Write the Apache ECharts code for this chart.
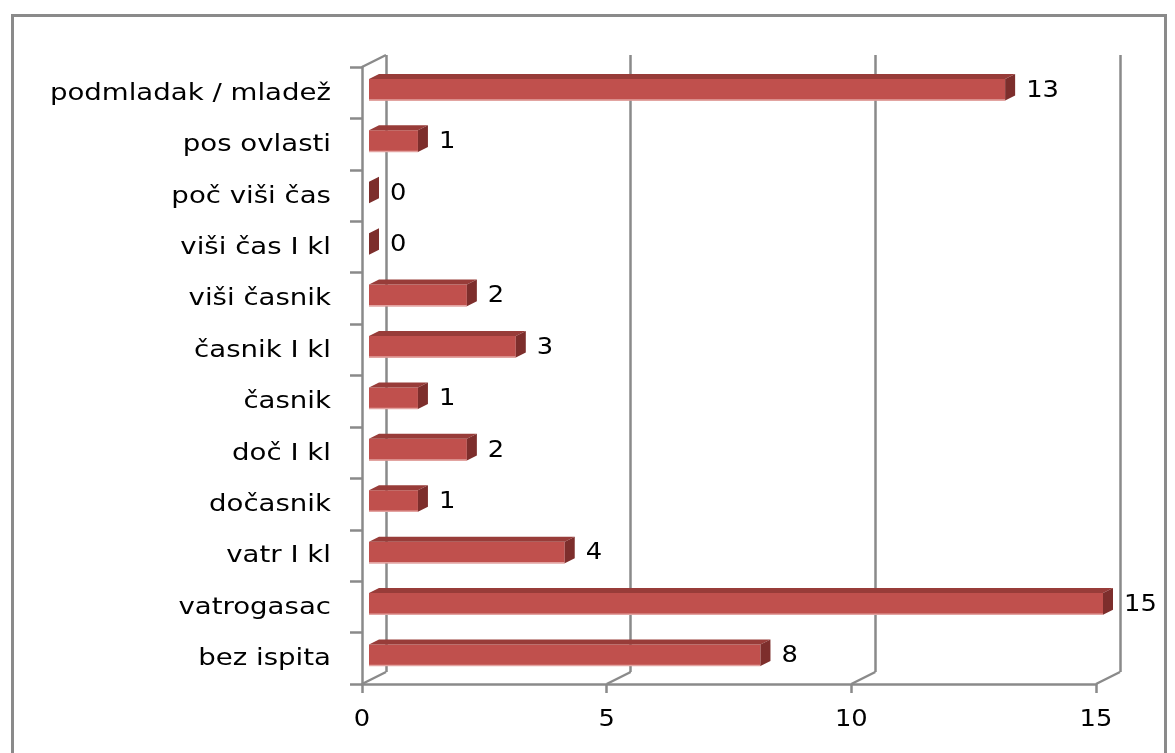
<!DOCTYPE html>
<html>
<head>
<meta charset="utf-8">
<script src="https://cdn.jsdelivr.net/npm/echarts@6/dist/echarts.min.js"></script>
<style>
  html, body { margin: 0; padding: 0; background: #ffffff; }
  #chart { width: 1175px; height: 753px; }
</style>
</head>
<body>
<div id="chart"></div>
<script>
// ---- data ----
const categories = [
  'bez ispita', 'vatrogasac', 'vatr I kl', 'dočasnik', 'doč I kl', 'časnik',
  'časnik I kl', 'viši časnik', 'viši čas I kl', 'poč viši čas', 'pos ovlasti',
  'podmladak / mladež'
];
const values = [8, 15, 4, 1, 2, 1, 3, 2, 0, 0, 1, 13];
const axisTicks = [0, 5, 10, 15];

// ---- style / layout constants ----
const FONT = 'DejaVu Sans';
const GRAY = '#8a8a8a';
const DEPTH_X = 24, DEPTH_Y = -12;       // back wall offset
const BAR_DX = 7, BAR_DY = -3;           // bar front face offset
const BAR_DEPTH_X = 10, BAR_DEPTH_Y = -5;
const G = { left: 362, right: 79, top: 67, bottom: 69 };

const chart = echarts.init(document.getElementById('chart'), null, { renderer: 'canvas' });

const barData = values.map((v, i) => [v, i]);
const catData = categories.map((c, i) => [0, i]);

function renderBar(params, api) {
  const v = api.value(0), i = api.value(1);
  const p0 = api.coord([0, i]);
  const p1 = api.coord([v, i]);
  const band = api.size([0, 1])[1];
  const h = band * 0.42;
  const x0 = p0[0] + BAR_DX, x1 = p1[0] + BAR_DX;
  const cy = p0[1] + BAR_DY;
  const yt = cy - h / 2, yb = cy + h / 2;
  const dx = BAR_DEPTH_X, dy = BAR_DEPTH_Y;
  const children = [];
  if (x1 > x0) {
    children.push({ type: 'rect', shape: { x: x0, y: yt, width: x1 - x0, height: h },
      style: { fill: '#c0504d' } });
    children.push({ type: 'line', shape: { x1: x0, y1: yb - 0.5, x2: x1, y2: yb - 0.5 },
      style: { stroke: '#e3a3a1', lineWidth: 1.5 } });
    children.push({ type: 'polygon', shape: { points: [[x0, yt], [x1, yt], [x1 + dx, yt + dy], [x0 + dx, yt + dy]] },
      style: { fill: '#983c39' } });
  }
  children.push({ type: 'polygon', shape: { points: [[x1, yt], [x1 + dx, yt + dy], [x1 + dx, yb + dy], [x1, yb]] },
    style: { fill: '#7d2e2c' } });
  children.push({ type: 'text', x: x1 + dx + 11, y: cy + 1, scaleX: 1.12,
    style: { text: String(v), x: 0, y: 0,
    fill: '#000', font: '23px "' + FONT + '"', textAlign: 'left', textVerticalAlign: 'middle' } });
  return { type: 'group', children: children };
}

function renderCatLabel(params, api) {
  const i = api.value(1);
  const p = api.coord([0, i]);
  return { type: 'text', x: p[0] - 31, y: p[1] + 1, scaleX: 1.2,
    style: { text: categories[i], x: 0, y: 0, fill: '#000', font: '23px "' + FONT + '"',
      textAlign: 'right', textVerticalAlign: 'middle' } };
}

function renderDiag(params, api) {
  const v = api.value(0);
  const band = api.size([0, 1])[1];
  const pb = api.coord([v, 0]);
  const yBottom = pb[1] + band / 2;
  const children = [{ type: 'line', shape: { x1: pb[0], y1: yBottom, x2: pb[0] + DEPTH_X, y2: yBottom + DEPTH_Y },
    style: { stroke: GRAY, lineWidth: 2.5 } }];
  children.push({ type: 'text', x: pb[0], y: yBottom + 36, scaleX: 1.12,
    style: { text: String(v), x: 0, y: 0, fill: '#000', font: '23px "' + FONT + '"',
      textAlign: 'center', textVerticalAlign: 'middle' } });
  if (v === 0) {
    const pt = api.coord([0, categories.length - 1]);
    const yTop = pt[1] - band / 2;
    children.push({ type: 'line', shape: { x1: pt[0], y1: yTop, x2: pt[0] + DEPTH_X, y2: yTop + DEPTH_Y },
      style: { stroke: GRAY, lineWidth: 2.5 } });
  }
  return { type: 'group', children: children };
}

chart.setOption({
  animation: false,
  backgroundColor: '#ffffff',
  graphic: [{
    type: 'rect', left: 10, top: 13, z: -10,
    shape: { width: 1153, height: 780 },
    style: { fill: 'none', stroke: GRAY, lineWidth: 3 }
  }],
  grid: [
    { left: G.left, right: G.right, top: G.top, bottom: G.bottom },
    { left: G.left + DEPTH_X, right: G.right - DEPTH_X, top: G.top + DEPTH_Y, bottom: G.bottom - DEPTH_Y }
  ],
  xAxis: [
    { type: 'value', gridIndex: 0, min: 0, max: 15, interval: 5,
      axisLine: { show: true, lineStyle: { color: GRAY, width: 2.5 } },
      axisTick: { show: true, inside: false, length: 9, lineStyle: { color: GRAY, width: 2.5 } },
      splitLine: { show: false },
      axisLabel: { show: false } },
    { type: 'value', gridIndex: 1, min: 0, max: 15, interval: 5,
      axisLine: { show: false }, axisTick: { show: false }, axisLabel: { show: false },
      splitLine: { show: true, lineStyle: { color: GRAY, width: 2.5 } } }
  ],
  yAxis: [
    { type: 'category', gridIndex: 0, data: categories,
      axisLine: { show: true, lineStyle: { color: GRAY, width: 2.5 } },
      axisTick: { show: true, inside: false, length: 12, alignWithLabel: false, lineStyle: { color: GRAY, width: 2.5 } },
      axisLabel: { show: false } },
    { type: 'category', gridIndex: 1, data: categories, show: false }
  ],
  series: [
    { type: 'custom', xAxisIndex: 1, yAxisIndex: 1, data: [], renderItem: () => null, silent: true },
    { type: 'custom', xAxisIndex: 0, yAxisIndex: 0, data: axisTicks.map(t => [t, 0]),
      encode: { x: 0, y: 1 }, renderItem: renderDiag, silent: true, z: 1 },
    { type: 'custom', xAxisIndex: 0, yAxisIndex: 0, data: catData,
      encode: { x: 0, y: 1 }, renderItem: renderCatLabel, silent: true, z: 1 },
    { type: 'custom', xAxisIndex: 0, yAxisIndex: 0, data: barData,
      encode: { x: 0, y: 1 }, renderItem: renderBar, z: 5 }
  ]
});
</script>
</body>
</html>
